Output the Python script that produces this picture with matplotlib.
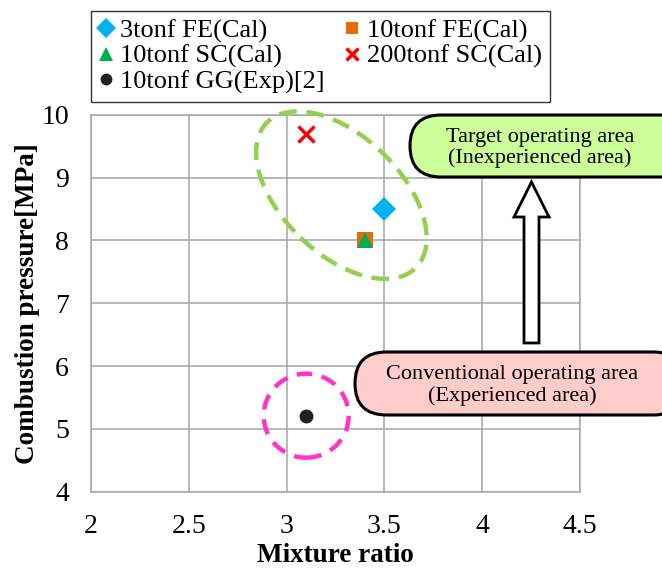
import numpy as np
import matplotlib
matplotlib.use('Agg')
import matplotlib.pyplot as plt
import matplotlib.patches as mpatches
from matplotlib.transforms import IdentityTransform

plt.rcParams['font.family'] = ['Liberation Serif', 'DejaVu Serif']

# data
labels = ['3tonf FE(Cal)', '10tonf FE(Cal)', '10tonf SC(Cal)', '200tonf SC(Cal)', '10tonf GG(Exp)[2]']
mixture_ratio = [3.5, 3.4, 3.4, 3.1, 3.1]
pressure = [8.5, 8.0, 8.0, 9.7, 5.2]
markers = ['D', 's', '^', 'x', 'o']
colors = ['#00B0F0', '#E36C09', '#00B050', '#FF0000', '#231F20']
msizes = [12, 11, 12, 11, 10]
x_ticks = [2, 2.5, 3, 3.5, 4, 4.5]
y_ticks = [4, 5, 6, 7, 8, 9, 10]

W, H = 662, 568
fig = plt.figure(figsize=(W / 100, H / 100), dpi=100)
ax = fig.add_axes([91 / W, (H - 491.7) / H, (580 - 91) / W, (491.7 - 114.7) / H])

handles = []
for lab, xv, yv, m, c, s in zip(labels, mixture_ratio, pressure, markers, colors, msizes):
    mew = 2.5 if m == 'x' else 0
    h, = ax.plot([xv], [yv], linestyle='none', marker=m, color=c, markersize=s,
                 markeredgewidth=mew, label=lab, zorder=5)
    handles.append(h)

ax.set_xlim(2, 4.5)
ax.set_ylim(4, 10)
ax.set_xticks(x_ticks)
ax.set_xticklabels(['2', '2.5', '3', '3.5', '4', '4.5'])
ax.set_yticks(y_ticks)
ax.grid(True, color='#A6A6A6', linewidth=1.1)
for sp in ax.spines.values():
    sp.set_color('#A6A6A6')
    sp.set_linewidth(1.1)
ax.tick_params(length=0, labelsize=20, pad=16)
ax.tick_params(axis='y', pad=16)

ax.set_xlabel('Mixture ratio', fontsize=19.5, fontweight='bold', labelpad=3)
ax.set_ylabel('Combustion pressure[MPa]', fontsize=19.5, fontweight='bold', labelpad=1)

# row-major order like the original legend
order = [0, 2, 4, 1, 3]
leg = ax.legend([handles[i] for i in order], [labels[i] for i in order],
                ncol=2, loc='lower left', bbox_to_anchor=(0, 1.034),
                borderaxespad=0, fontsize=19, frameon=True,
                fancybox=False, edgecolor='black', handlelength=0.5,
                handletextpad=0.3, labelspacing=0.06, borderpad=0.3,
                markerscale=0.85, columnspacing=0.8)
leg.get_frame().set_linewidth(1.0)

# dashed regions, centred on data, sized in pixels
cx, cy = ax.transData.transform((3.28, 8.72))
ax.add_patch(mpatches.Ellipse((cx, cy), 208, 118, angle=-44, transform=IdentityTransform(),
                              fill=False, edgecolor='#92D050', linewidth=3.2,
                              linestyle=(0, (4.0, 2.2)), clip_on=False, zorder=4))
gx, gy = ax.transData.transform((3.1, 5.21))
ax.add_patch(mpatches.Ellipse((gx, gy), 85, 84, transform=IdentityTransform(),
                              fill=False, edgecolor='#FF33CC', linewidth=3.2,
                              linestyle=(0, (3.5, 2.2)), clip_on=False, zorder=4))

# rounded callout boxes (pixel coords, origin bottom-left)
def callout(x0, ytop, ybot, fc, text, tx):
    h = ybot - ytop
    box = mpatches.FancyBboxPatch((x0, H - ybot), 330, h,
                                  boxstyle='round,pad=0,rounding_size=%f' % (h / 2),
                                  transform=IdentityTransform(), facecolor=fc,
                                  edgecolor='black', linewidth=2.2, zorder=6)
    fig.add_artist(box)
    fig.text(tx / W, (H - (ytop + ybot) / 2 - 2) / H, text, ha='center', va='center',
             fontsize=16, linespacing=1.1, zorder=7)

callout(410, 115, 177, '#CCFF99', 'Target operating area\n(Inexperienced area)', 540)
callout(355, 352, 415, '#FFCCCC', 'Conventional operating area\n(Experienced area)', 512)

arrow = mpatches.FancyArrow(531.5, H - 343, 0, (343 - 182), width=15, head_width=35,
                            head_length=35, length_includes_head=True,
                            transform=IdentityTransform(), facecolor='white',
                            edgecolor='black', linewidth=2.0, zorder=6)
fig.add_artist(arrow)

fig.savefig('out.png', dpi=100)
